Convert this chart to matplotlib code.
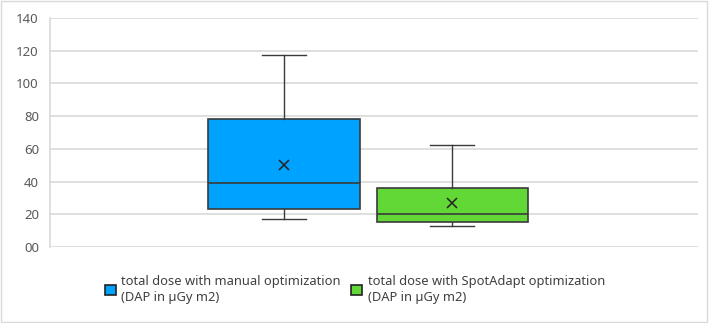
import matplotlib
matplotlib.use("Agg")
import matplotlib.pyplot as plt
from matplotlib.patches import Patch, Rectangle

# data
series = ["total dose with manual optimization\n(DAP in µGy m2)",
          "total dose with SpotAdapt optimization\n(DAP in µGy m2)"]
whislo = [17, 13]
q1 = [23.2, 15.1]
med = [39, 20.2]
q3 = [78.2, 36.3]
whishi = [117.2, 62.3]
means = [50.1, 26.7]
yticks = [0, 20, 40, 60, 80, 100, 120, 140]
ytick_labels = ["00", "20", "40", "60", "80", "100", "120", "140"]

colors = ["#00A2FF", "#61D836"]
GRID = "#d9d9d9"
EDGE = "#3a3a3a"

plt.rcParams["font.family"] = ["Noto Sans", "DejaVu Sans"]

fig = plt.figure(figsize=(7.09, 3.23), dpi=100)
ax = fig.add_axes([50 / 709, 1 - 247 / 323, 648 / 709, 229 / 323])

stats = []
for i in range(len(series)):
    stats.append(dict(med=med[i], q1=q1[i], q3=q3[i], whislo=whislo[i],
                      whishi=whishi[i], mean=means[i], fliers=[]))

positions = [(284 - 50) / 648, (452 - 50) / 648]
bp = ax.bxp(stats, positions=positions, widths=151 / 648, capwidths=44 / 648,
            patch_artist=True, showmeans=True, manage_ticks=False,
            boxprops=dict(edgecolor=EDGE, linewidth=1.2),
            medianprops=dict(color=EDGE, linewidth=1.2),
            whiskerprops=dict(color=EDGE, linewidth=1.0),
            capprops=dict(color=EDGE, linewidth=1.0),
            meanprops=dict(marker="x", markeredgecolor="#222222",
                           markersize=7, markeredgewidth=1.1))
for box, c in zip(bp["boxes"], colors):
    box.set_facecolor(c)
for ln in bp["whiskers"] + bp["caps"] + bp["medians"] + bp["boxes"] + bp["means"]:
    ln.set_zorder(3)

ax.set_xlim(0, 1)
ax.set_ylim(0, 140)
ax.set_yticks(yticks)
ax.set_yticklabels(ytick_labels)
ax.set_xticks([])
ax.tick_params(axis="y", length=0, pad=8, labelsize=9.5, labelcolor="#595959")
ax.grid(axis="y", color=GRID, linewidth=1.2)
ax.set_axisbelow(True)
for s in ["top", "right", "bottom"]:
    ax.spines[s].set_visible(False)
ax.spines["left"].set_color(GRID)
ax.spines["left"].set_linewidth(1.2)

handles = [Patch(facecolor=c, edgecolor="#222222", linewidth=1.2) for c in colors]
fig.legend(handles, series, loc="center", bbox_to_anchor=(355 / 709, 1 - 289.5 / 323),
           ncol=2, frameon=False, fontsize=9.3, labelcolor="#404040",
           handlelength=0.85, handleheight=0.85, handletextpad=0.45,
           columnspacing=0.8, labelspacing=0.3)

# thin light frame around the whole chart
fig.patches.append(Rectangle((0.002, 0.004), 0.995, 0.993, transform=fig.transFigure,
                             fill=False, edgecolor=GRID, linewidth=1.0))

fig.savefig("out.png", dpi=100, facecolor="white")
